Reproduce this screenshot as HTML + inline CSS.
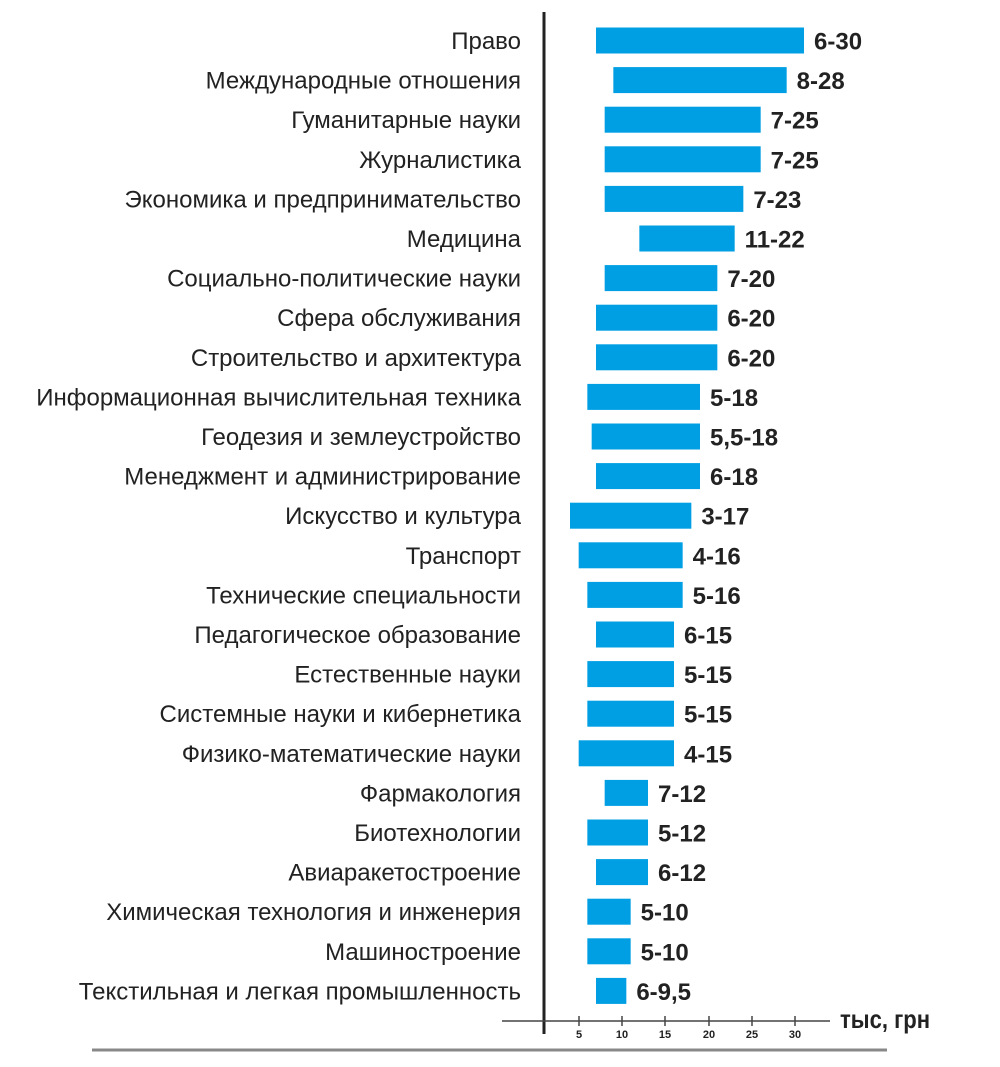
<!DOCTYPE html>
<html><head><meta charset="utf-8"><style>
body{margin:0;background:#fff;}
svg text{font-family:"Liberation Sans","DejaVu Sans",sans-serif;}
</style></head><body>
<svg width="1000" height="1062" viewBox="0 0 1000 1062" xmlns="http://www.w3.org/2000/svg">
<g id="rows"></g>
<line x1="544" y1="12" x2="544" y2="1034" stroke="#222" stroke-width="3"/>
<line x1="502" y1="1021" x2="830" y2="1021" stroke="#444" stroke-width="1.5"/>
<g stroke="#444" stroke-width="1.5">
<line x1="579" y1="1016" x2="579" y2="1026"/><line x1="622" y1="1016" x2="622" y2="1026"/><line x1="665" y1="1016" x2="665" y2="1026"/><line x1="709" y1="1016" x2="709" y2="1026"/><line x1="752" y1="1016" x2="752" y2="1026"/><line x1="795" y1="1016" x2="795" y2="1026"/>
</g>
<g font-size="11" font-weight="bold" fill="#222" text-anchor="middle">
<text x="579" y="1038">5</text><text x="622" y="1038">10</text><text x="665" y="1038">15</text><text x="709" y="1038">20</text><text x="752" y="1038">25</text><text x="795" y="1038">30</text>
</g>
<text x="840" y="1028" font-size="26" font-weight="bold" fill="#222" textLength="90" lengthAdjust="spacingAndGlyphs">тыс, грн</text>
<line x1="92" y1="1050" x2="887" y2="1050" stroke="#888" stroke-width="3"/>
</svg>
<script>
const d=[["Право",6,30,"6-30"],["Международные отношения",8,28,"8-28"],["Гуманитарные науки",7,25,"7-25"],["Журналистика",7,25,"7-25"],["Экономика и предпринимательство",7,23,"7-23"],["Медицина",11,22,"11-22"],["Социально-политические науки",7,20,"7-20"],["Сфера обслуживания",6,20,"6-20"],["Строительство и архитектура",6,20,"6-20"],["Информационная вычислительная техника",5,18,"5-18"],["Геодезия и землеустройство",5.5,18,"5,5-18"],["Менеджмент и администрирование",6,18,"6-18"],["Искусство и культура",3,17,"3-17"],["Транспорт",4,16,"4-16"],["Технические специальности",5,16,"5-16"],["Педагогическое образование",6,15,"6-15"],["Естественные науки",5,15,"5-15"],["Системные науки и кибернетика",5,15,"5-15"],["Физико-математические науки",4,15,"4-15"],["Фармакология",7,12,"7-12"],["Биотехнологии",5,12,"5-12"],["Авиаракетостроение",6,12,"6-12"],["Химическая технология и инженерия",5,10,"5-10"],["Машиностроение",5,10,"5-10"],["Текстильная и легкая промышленность",6,9.5,"6-9,5"]];
let s="";const z=544,k=8.667;
d.forEach((r,i)=>{const c=40.5+i*39.6;const x1=z+r[1]*k,x2=z+r[2]*k;
s+=`<text x="521" y="${c+8.5}" font-size="24" fill="#222" text-anchor="end">${r[0]}</text>`;
s+=`<rect x="${x1}" y="${c-13}" width="${x2-x1}" height="26" fill="#009fe3"/>`;
s+=`<text x="${x2+10}" y="${c+9}" font-size="24" font-weight="bold" fill="#222">${r[3]}</text>`;});
document.getElementById("rows").innerHTML=s;
</script>
</body></html>
